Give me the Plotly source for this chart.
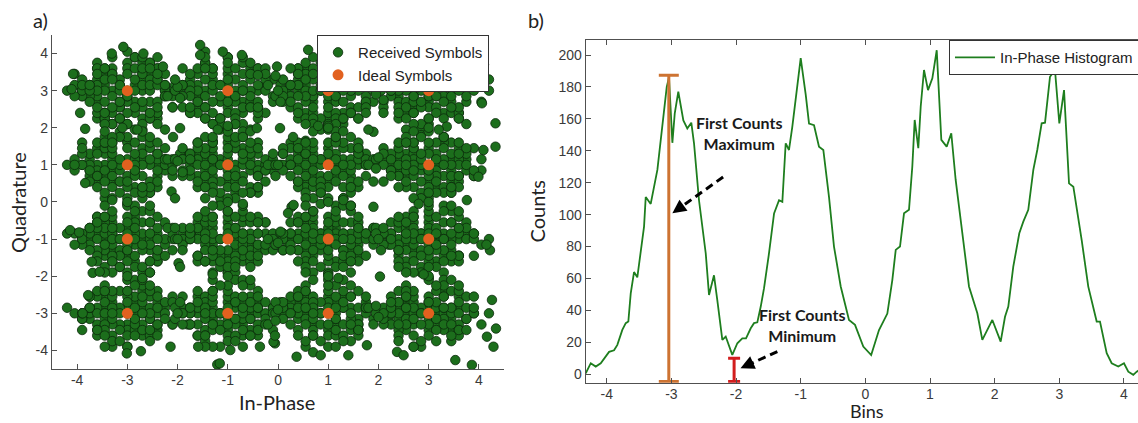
import plotly.graph_objects as go

# ---------------- data: panel a) constellation ----------------
ideal_i = [-3, -1, 1, 3, -3, -1, 1, 3, -3, -1, 1, 3, -3, -1, 1, 3]
ideal_q = [3, 3, 3, 3, 1, 1, 1, 1, -1, -1, -1, -1, -3, -3, -3, -3]

# received-symbol offsets around each ideal symbol, two letters per point
# ('j' = 0, each letter step = NOISE_STEP in I (first letter) and Q (second letter))
NOISE_STEP = 0.15
noise_core = [
    "jj kh il gm nf ek hj lm di oj gk fn mh ie cm lg kk pj hd nl gf jo ei mm kc fl hn ig oj dk me qj fh ll ie pg jn kf hm ck gd lj oi fk hm ne gj ik dl jh nn fe lc ji mo gh kp dj ig nh ek ml hf jd oc kl fi mj gn le ih jm bj rk ji kn hg mf ei lk gl np fj ij kg hi mk nd fo lh jq ja ik gf me hl kj jf ok di lm ih ge nk",
    "ji hk lj gg mn fi kl ih nj el jm hf mc gj ok ik dg lh jn fm kd ne gi hl mj ie lo ck jg pi hh ng fk kj em ic mh lf go jk dn ki hj of gl mm jf bi rj ek lk hn jc nm fg kh id ml gq ha kn ie hm oj lg fj ng dk jl pl ki ej mg jh hk nn fh lm ik ge kf jp mi hd gn lj ef nk ii",
    "kk hh jl mg fj io lm gk ne hi jd ml ek ki gn oh jj fl mf ic kp hl nj eg ln jh ci mm gf kj ph ik fm ld jo hf mi gj nl ek kh je ro gm ij lf dh nk jm hg fk mj kd oi gl hn ji lk fg mk ie qj bk jf ln hi gh nm kf ei jk lj mo hm dj ki gi fn le ng jg hj lh ke ok fi mn ij ga",
    "ij kl hg mk fi ln jh gm ne ki hj lf ei jn mm gk od fh kj im hl nf gj li dk jg kn mh fm hi ok lk gf je mj ic nl hm kg fj ll ji gh qk ek mf in jd hk pj gn lh ej km fg ib mo ji hh nk gl kf dm jj le hn ig ml fk jq oh ki gg bl rj jm hi lo fe nj ih kk gm mi hf jl",
    "jk hi lm gj mf ek ki hn nj fg jh lk ij dj mm gl kf oi hg jn ei lh ck fm mj ig nl hk jf gd ok ll ii fj kh mn ej gh jm ld hl nh fi kn ig mg jj ci el lj hf oj gm kk ie ni fl jg hm bj rl kl gi me ij lf dn jo hh nk fh kj ik gg mk jc eh lo pj hj gn ki",
    "hj km ji lh fl mi gk jn ke hh nj ej ll gf ik dm oj hl jg mk fn kj ic lm gi ne hk jj mf el kg oi hm ig lj fk nl jh dk km gg me ij hn lk fh jo ki gl ni eh mj jf hi kn lg fj ok gm jk ek ml hg nh id jl kf fm pk gj lo hf mm ij kh ei rj bk jm nf gh ll hk",
    "kj gi lk hl mh fj jm ie nk gg kl hj ej mm ig lf dj jk oh gn ki fl mj hh lm jg en ik nj gk fi kh mg hm jj dl ol gf li ek jn mk hi fg nm kk ij gl lh em jf ih oj fm kg hn mi gj ld bj jl rk ik hf nl gm jh fk ki mj ej ln hg kn ig me jq if lj gh nk ic hk ko",
    "ii kk hm lj gh mn fk ji nh ek kl gj hf mk ie ln jj gl ok fi jm dk hl lh mg ij gn kf ej nm hh kj fl mi jg lk cj ig nk hn ki gf me jl fj oi kh hk lm gi jd nj fm ik mj gk el lf jh ph dm kn hj jf ng il gg kk mh fh lj jn ei ml hi kg qk bj ji lo hm gj mf",
    "jl hh mk gj ki fm lj ie nk hl jg mm fk ih kn gg mj el jj nh hm kf gi lk dj oi jf hk mh fn ij lm gh kk ej nl hi jn mf gk ld fh km ig oj hn jh ek lh gm mi jj fg kl hf nj il ck gl mm ji hg ke fj lo jm hk ng ei kj gn md jk fl ph hj mk ij bk rj li gi kg hl nf jh",
    "kh ij gl mj hi lk fk jg nm ek kj hh jm gj lf mi ie kl hn fg nk jj lm gi dk ok hf mk jl ig ej ln gh kk mh fm hj jf ni lg ek ki hl gm mj if jn kg nh fj li dj hk om gf kn jh mf ij ek lj gk hm ni fl kf jk mg ih lh jd gn pj ek mm hg jj kl bl ri jo gj lk hh nk",
    "ji lh hk mm gj kf ni fj lk ik jn gh mh ej kl hi nl gm jf fk ok ij lj hm dh mk jj gk lf ei nj hg km jl fh mi gn ik lm hj jg ek ng kk fm ih lh oj jk gg mf hl kj dk ii nm gi lg jh fj em kn hh mj ci jm lk gf nk ij hn ki fh pl mg jj gl ke hk bj ri lj ho",
    "hk kj lm gi jj mh fl ki ng ej jm hh lk gk ie mm kf jl hn fj nj ik gh lg jf ok hi em kk gl mj ih jn fg lh dk nk gm ji hj kl mf fi lj oj gj hm ik jg nl ek kh mi gf jk ld hl ij ng fm kn hg jh mk ek lj gn pk jc ig mm hk ki fh lf jo gk cl rj ij kk hf",
    "jh kl hj mi gm lj fh jk nj ei ki gk mm hl jg lf fk jn ng ih km dj ok gj hh lk jj mf ej in kg hm gi nl fj lh kj jm ek mk ig hf ol jf gl ln di kh jj mi hn fg ll gh nk ik jl em kf ph gj hi mj lg bk jd rh ki gn hk fm jj nh ij kk lm gg mg hj ek lj jn",
    "kk hi jl mj gg lk fj ih nl ek jg mm hk ki gj lf nj eh jm gk mi hh kl fm ij oj gl lh dk nk hj jf mk gi ek ll ji hn kf fh mg jk gm li ej nh hg km ij gl oi fk jj lm hl dj mf kh ig jn nk ff lj gk hm ki ml jh ej lg pk gj ck mi jo rj hh kl ij gf lk",
    "ij lk hh mk gj jm fl kh ni el jj gm mh hk ki fi lm jg oj gk hj ln ek mg ij kl hm fj nk jf gi lh dk km jj hg mm fk jl ih ng lk gl ej mi kf hi jn ok gh il em kj hl nh fg jk mj dj lf gn ki hk ol jh fm ij mm gk kg hj cj ri ll bh jq hf ng kk",
    "hh kj jk mi gl lj fi jm nk eh kk gj mg hl ji lk fl jg nm ej ki hj mk gh ln jj fk oi hm ik gk lg em kh jl mj dj hk nh gi lm jf fj kl ij om gg hn li ek mk jh fg kn ij gm lh dk nj hi jj mh fl ok gk lk ej ih kg mn jl hf ng ij pj bk gh lm rj ki",
]
noise_ring = [
    "dj pi ej om ff nn fn nf jd kp hd lo ge mo ie dk pg hp ld ng gn qj ci mf fm nl ln eh ok gd lp fg nm gf mn ek oi",
    "dk ph ei ol fn nf ff nn jp id lp hd mo ge ke go ie di gp ld nh hn cj qk kd jo ef on eg om gn mg ng fh mm gg",
    "di pj eh ok fe no ne fn jd jp kd hp le go ge mo he pl dl hd lp oh fk nk jc jq ek og mf fm en of nn ff gd mp",
    "dh pk ek oi nf fn ff nn id kp hd lp ge mo je jo dg pm mq gc ng hn cl qh ej om gm mg fo ne ln hf ko pl df",
    "dj pk eg om ff nn nf fn jd ip hd lp me go ke io dl ph gp le ng ho cj ql ei ok gn mf fh nl hn lf dm pi ge mo",
    "dk pi el og fn nf nn ff jp kd ie lp go me he ko di pl gd mp nh hn qj ck ek oi fg nm gf mn dh pj jd ho le lo",
    "di pj ej ok nn ff fn nf jd kp hd lp ge mo ie ko dm pg hp ld ng gn cj qk mf fm nl gl eh oj gd fg nm pk",
    "dj ph ei ol ff nn nf fn id jp le hp go me ke io dg pm hd lo nh hn qi ck ek om fh nl gn mf eh oj dl pi je lo",
    "dk pj eh om fn nf ff nn jd jp hd kp ge mo le ho di pl gd mp ng gn ci qj el og fm mf nh hf dj pk ie ko gp md",
    "di pk ej oh nn ff fn nf jd ip kd hp me go je lo dl ph hd lp ng hn cj qk ek om fg nm gf mn el oi dh pj ke jo",
    "dj pi ek og ff nn nf fn jd kp hd lp ge mo ie ko dh pl gp md nh gn qj ci eh ok fm mf nl hf dk pj le ho gd mp",
    "dk pj ei om fn nf ff nn jp id lp hd mo ge ke ho dl pg gd mp ng hn ck qi ej ol fh nl gm mg di pk je lo fe no",
    "di ph ek oj nn ff nf fn jd jp hd kp go me he lo dg pm lp nh gn cj qk em oi fg nm gf mn dj pl ie ko gd mo",
    "dj pk eh ol ff nn fn nf id kp hd lp ge mo je io dm pg hp ld ng hn ci ql ek oh fl mf nm gf dh pj ke lo gd mp",
    "dk pi ej om fn nf nn ff jd jp kd hp me go ie ko dl ph gd lp nh gn qj cl eh ok fm mh ng hf di pk le jo ge mo",
    "dh pj ek oi ff nn nf fn jp id lp hd go me ke lo di pm hd mp ng gn cj qh el og fh nl gm mf dj pk ie ko fe no",
]

# stray received symbols (outliers and points between clusters)
received_extra_i = [
    -4.08, -4.11, -3.94, -3.84, -3.84, -3.08, -3.31, -2.68, -2.29, -1.95, -2.09, -1.55, -1.55, -1.10, -0.72,
    -0.40, -0.42, -0.02, 0.04, 0.30, 0.27, -2.12, -2.05,
    4.06, 4.33, 4.33, 4.09, 3.99, 3.76, 1.90, 1.80, 1.93, 2.10, 3.36,
    -4.14, -3.96, -3.78, -3.89, -3.71, -3.69, -3.55, -3.01, -2.73, -2.14, -1.98, -1.95, -1.59, -1.21, -1.16,
    -0.95, -0.36, -0.06, 0.31, 0.20,
    0.37, 0.70, 0.85, 1.40, 1.77, 2.37, 2.50, 3.53, 3.86, 4.16, 4.34, 4.29, 4.26, 4.22, 4.15, -0.09, -0.06,
    2.03, 1.90, 1.45,
    4.20, 4.10, 3.60, 2.60, 1.50, 0.60,
    -2.0, -1.95, -2.05, 0.0, 0.05, -0.05, 2.0, 1.95, 2.05, -2.0, -1.9, 0.0, 0.1, -0.05, 2.0, 1.95, -2.0, -2.05,
    0.0, 0.05, 2.0, 2.05, -2.0, -1.95, 0.0, -0.05, 2.0, 1.95,
    -3.1, -2.8, -1.0, -1.2, 1.0, 0.8, 3.0, 3.2, -3.0, -3.3, -1.0, -0.7, 1.0, 1.3, 3.0, 2.8, -3.0, -2.7, -1.0,
    -1.3, 1.0, 1.2, 3.0, 2.9,
]
received_extra_q = [
    3.45, 3.04, 2.40, 1.97, 0.51, 4.18, 4.00, 4.00, 3.65, 1.99, 1.75, 4.23, 3.96, 4.05, 3.96,
    3.42, 1.99, 3.65, 1.99, 1.75, -0.13, 0.28, 0.10,
    2.66, 2.12, 1.49, 1.40, 0.68, 0.05, 1.89, 1.95, 3.29, 2.75, 2.03,
    -0.76, -0.82, -2.51, -3.00, -1.61, -1.91, -1.88, -4.08, -4.02, -3.90, -1.65, -1.75, -3.90, -4.38, -4.35,
    -3.99, -3.90, -3.81, -0.08, -0.30,
    -4.17, -4.05, -4.13, -4.13, -3.86, -4.04, -4.13, -4.26, -4.39, -3.63, -3.41, -3.90, -2.64, -1.30, -1.15, -3.77, -3.60,
    -2.01, -0.13, -0.10,
    3.30, 3.70, 4.10, 4.00, 4.10, 4.10,
    3.1, 2.8, 3.3, 3.0, 2.7, 3.4, 3.1, 2.9, 3.4, 1.1, 0.8, 1.0, 1.3, 0.7, 1.2, 0.9, -1.0, -0.7,
    -1.1, -0.8, -1.0, -1.3, -3.0, -2.7, -2.9, -3.2, -3.1, -2.8,
    2.0, 1.95, 2.05, 1.95, 2.0, 2.05, 2.0, 1.95, 0.0, 0.05, 0.0, -0.05, 0.0, 0.05, 0.0, -0.05, -2.0, -2.05, -2.0,
    -1.95, -2.0, -2.05, -2.0, -1.95,
]

axis_ticks = [-4, -3, -2, -1, 0, 1, 2, 3, 4]
axis_ticktext = ["-4", "-3", "-2", "-1", "0", "1", "2", "3", "4"]

# ---------------- data: panel b) in-phase histogram ----------------
hist_bins = [
    -4.325, -4.247, -4.170, -4.093, -3.964, -3.887, -3.836, -3.759, -3.706, -3.666,
    -3.629, -3.578, -3.527, -3.423, -3.397, -3.320, -3.217, -3.140, -3.072, -3.037,
    -3.021, -2.985, -2.948, -2.893, -2.815, -2.754, -2.692, -2.650, -2.573, -2.469,
    -2.418, -2.341, -2.290, -2.212, -2.160, -2.058, -1.980, -1.903, -1.846, -1.773,
    -1.722, -1.671, -1.618, -1.567, -1.490, -1.412, -1.335, -1.284, -1.232, -1.181,
    -1.130, -1.077, -1.000, -0.922, -0.871, -0.794, -0.717, -0.650, -0.562, -0.485,
    -0.381, -0.253, -0.160, -0.032, 0.090, 0.211, 0.340, 0.417, 0.470, 0.536,
    0.598, 0.675, 0.726, 0.763, 0.819, 0.856, 0.907, 0.969, 1.036, 1.104,
    1.175, 1.258, 1.329, 1.397, 1.526, 1.603, 1.732, 1.809, 1.964, 2.093,
    2.160, 2.211, 2.288, 2.381, 2.443, 2.520, 2.598, 2.659, 2.727, 2.779,
    2.856, 2.933, 3.000, 3.073, 3.150, 3.217, 3.346, 3.448, 3.578, 3.629,
    3.733, 3.810, 3.912, 4.000, 4.067, 4.144, 4.197, 4.250,
]
hist_counts = [
    0.6, 6.9, 4.8, 6.9, 14, 15, 18.4, 27.8, 32, 33,
    50.7, 64, 60.7, 92.5, 111, 106.7, 128, 154, 180, 186,
    172, 145, 163.5, 177, 159, 154, 157.6, 144.7, 109, 75.8,
    49.7, 62, 46.5, 21.5, 23.6, 12.1, 19.4, 22.5, 22.5, 28.8,
    32, 32.5, 42.4, 53.9, 75.8, 100.8, 109, 108, 144.7, 140.5,
    155, 171.8, 198, 175, 157, 156, 142.6, 140.5, 111, 80,
    55, 34, 30.9, 17.3, 12, 27.7, 38, 59, 77.9, 80,
    100.8, 103, 130, 159.3, 141.6, 167.6, 190.6, 178, 185.4, 203,
    146.8, 142.6, 151, 121.7, 80, 55, 38.2, 21.5, 34, 20.4,
    36, 42.4, 67.4, 88.3, 95.6, 103, 128, 140.5, 157.2, 157.6,
    186.4, 190.6, 157.2, 178, 119.6, 117.5, 84, 54.9, 33, 33,
    13.2, 6.9, 4.8, 6.9, 1.6, -0.4, 1.6, 3,
]
count_ticks = [0, 20, 40, 60, 80, 100, 120, 140, 160, 180, 200]

marker_bins = [-3.04, -2.03]          # first counts maximum / minimum positions
marker_counts = [187.4, 10.0]         # first counts maximum / minimum values
marker_base = -4.5

# ---------------- build received symbols ----------------
received_i, received_q = [], []
for ci, cq, core, ring in zip(ideal_i, ideal_q, noise_core, noise_ring):
    for pair in (core + " " + ring).split():
        if len(pair) != 2:
            continue
        received_i.append(ci + (ord(pair[0]) - ord("j")) * NOISE_STEP)
        received_q.append(cq + (ord(pair[1]) - ord("j")) * NOISE_STEP)
received_i += received_extra_i
received_q += received_extra_q

TICK_FONT = dict(family="Liberation Sans, Arial, sans-serif", size=14, color="#3a3a3a")
TITLE_FONT = dict(family="Lato, Noto Sans, sans-serif", size=20, color="#222222")
BINS_FONT = dict(family="Lato, Noto Sans, sans-serif", size=18, color="#222222")
LEG_FONT = dict(family="Liberation Sans, Arial, sans-serif", size=15, color="#222222")
AX_COL = "#505050"

fig = go.Figure()
fig.add_trace(go.Scatter(
    x=received_i, y=received_q, mode="markers", name="Received Symbols",
    marker=dict(color="#1C6E1C", size=9.5, line=dict(color="#0B2A0B", width=0.8)),
    xaxis="x", yaxis="y", legend="legend"))
fig.add_trace(go.Scatter(
    x=ideal_i, y=ideal_q, mode="markers", name="Ideal Symbols",
    marker=dict(color="#E2611F", size=11, line=dict(width=0)),
    xaxis="x", yaxis="y", legend="legend"))
fig.add_trace(go.Scatter(
    x=hist_bins, y=hist_counts, mode="lines", name="In-Phase Histogram",
    line=dict(color="#1E7E1E", width=1.8),
    xaxis="x2", yaxis="y2", legend="legend2"))
for bx, by, col, w in zip(marker_bins, marker_counts, ["#CD7332", "#D21E1E"], [10, 6]):
    fig.add_trace(go.Scatter(
        x=[bx], y=[by], mode="markers", showlegend=False,
        marker=dict(size=1, color="rgba(0,0,0,0)"),
        error_y=dict(type="data", symmetric=False, array=[0], arrayminus=[by - marker_base],
                     color=col, thickness=3, width=w),
        xaxis="x2", yaxis="y2"))

axis_common = dict(showline=True, linecolor=AX_COL, linewidth=1.3, ticks="inside", ticklen=5,
                   tickwidth=1.2, tickcolor=AX_COL, showgrid=False, zeroline=False,
                   tickfont=TICK_FONT)

fig.update_layout(
    width=1138, height=423,
    paper_bgcolor="white", plot_bgcolor="white",
    margin=dict(l=0, r=0, t=0, b=0, autoexpand=False),
    xaxis=dict(domain=[0.0457, 0.4429], range=[-4.5, 4.5], tickvals=axis_ticks, ticktext=axis_ticktext,
               anchor="y", ticklabelstandoff=-2, **axis_common),
    yaxis=dict(domain=[0.1277, 0.9173], range=[-4.5, 4.5], tickvals=axis_ticks, ticktext=axis_ticktext,
               anchor="x", **axis_common),
    xaxis2=dict(domain=[0.5147, 1.0], range=[-4.325, 4.217], tickvals=axis_ticks, ticktext=axis_ticktext,
                anchor="y2", mirror="ticks", ticklabelstandoff=-2, **axis_common),
    yaxis2=dict(domain=[0.0953, 0.9054], range=[-5.3, 209.4], tickvals=count_ticks,
                anchor="x2", **axis_common),
    legend=dict(x=0.2786, y=0.917, xanchor="left", yanchor="top", bgcolor="white",
                bordercolor="#333333", borderwidth=1, font=LEG_FONT, tracegroupgap=0),
    legend2=dict(x=0.8339, y=0.905, xanchor="left", yanchor="top", bgcolor="white",
                 bordercolor="#333333", borderwidth=1, font=LEG_FONT, itemwidth=40),
    showlegend=True,
)

# axis titles and panel labels
titles = [
    ("In-Phase", 0.2438, 0.0504, 0, TITLE_FONT),
    ("Quadrature", 0.0158, 0.5225, -90, TITLE_FONT),
    ("Bins", 0.7616, 0.0272, 0, BINS_FONT),
    ("Counts", 0.4723, 0.5012, -90, TITLE_FONT),
    ("a)", 0.0356, 0.9527, 0, TITLE_FONT),
    ("b)", 0.471, 0.9527, 0, TITLE_FONT),
]
for txt, px, py, ang, fnt in titles:
    fig.add_annotation(x=px, y=py, xref="paper", yref="paper", text=txt, showarrow=False,
                       xanchor="center", yanchor="middle", textangle=ang, font=fnt)

NOTE_FONT = dict(family="Lato, Noto Sans, sans-serif", size=16, color="#1a1a1a", weight="bold")
fig.add_annotation(x=-1.954, y=151.1, xref="x2", yref="y2", text="First Counts<br>Maximum",
                   showarrow=False, font=NOTE_FONT)
fig.add_annotation(x=-0.98, y=30.9, xref="x2", yref="y2", text="First Counts<br>Minimum",
                   showarrow=False, font=NOTE_FONT)

# dashed pointer arrows
fig.add_shape(type="line", xref="x2", yref="y2", x0=-2.20, y0=123.6, x1=-2.86, y1=104.5,
              line=dict(color="black", width=3, dash="8px,5px"))
fig.add_shape(type="line", xref="x2", yref="y2", x0=-1.361, y0=14.2, x1=-1.79, y1=6.3,
              line=dict(color="black", width=3, dash="8px,5px"))
fig.add_annotation(x=-2.985, y=100.8, xref="x2", yref="y2", ax=11, ay=-8, text="",
                   showarrow=True, arrowhead=2, arrowsize=1.1, arrowwidth=2.5, arrowcolor="black")
fig.add_annotation(x=-1.931, y=3.76, xref="x2", yref="y2", ax=12, ay=-5.5, text="",
                   showarrow=True, arrowhead=2, arrowsize=1.1, arrowwidth=2.5, arrowcolor="black")

fig.write_html("out.html")
